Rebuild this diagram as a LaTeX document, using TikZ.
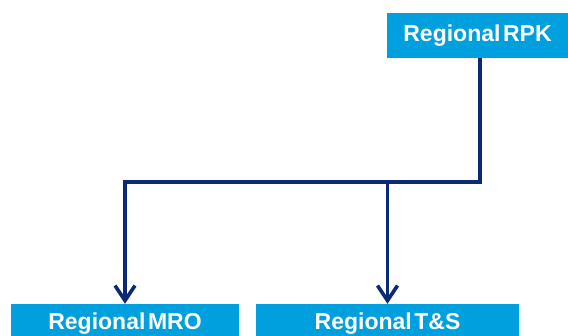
\documentclass[tikz,border=0pt]{standalone}
\usepackage{fontspec}
\setmainfont{Liberation Sans}[WordSpace=0.4]
\usepackage{tikz}
\usetikzlibrary{arrows.meta,calc,positioning}
\definecolor{boxblue}{HTML}{00A0DF}
\definecolor{linknavy}{HTML}{0A2A78}

\begin{document}
\begin{tikzpicture}[x=1pt,y=-1pt,>={Straight Barb[length=15pt,width=20pt]},
    unit/.style={fill=boxblue,text=white,inner sep=0pt,font=\fontsize{23}{23}\selectfont\bfseries},
    link/.style={linknavy,line width=3.6pt}]
        \useasboundingbox (0,0) rectangle (568,336);
        \node[unit,minimum width=181pt,minimum height=45pt] (rpk) at (477.5,35.5) {Regional RPK};
        \node[unit,minimum width=228pt,minimum height=40pt] (mro) at (125,324) {Regional MRO};
        \node[unit,minimum width=263pt,minimum height=40pt] (ts) at (387.5,324) {Regional T\&S};
        \coordinate (bus) at (480,182);
        \draw[link,->] (rpk.south -| bus) -- (bus) -| (mro.north);
        \draw[link,->] (bus -| ts.north) -- (ts.north);
      \end{tikzpicture}
\end{document}
